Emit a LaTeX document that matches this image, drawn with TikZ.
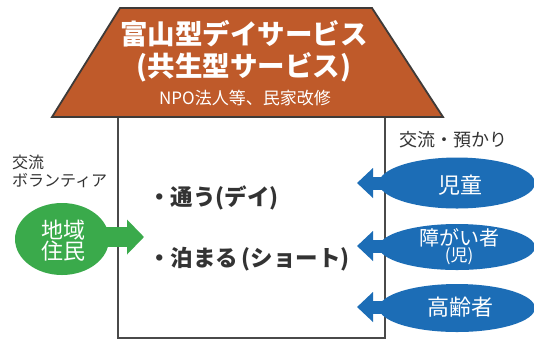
\documentclass[tikz,border=0pt]{standalone}
\usepackage{fontspec}
\setmainfont{Noto Sans CJK JP}
\usetikzlibrary{arrows.meta,shapes.geometric}
\definecolor{roofc}{HTML}{BF5A2A}
\definecolor{roofline}{HTML}{3E3A38}
\definecolor{wallc}{HTML}{4A4A4A}
\definecolor{greenc}{HTML}{3AAA4B}
\definecolor{bluec}{HTML}{1C6DB6}
\definecolor{textc}{HTML}{333333}
\newcommand{\fs}[1]{\fontsize{#1}{#1}\selectfont}
\tikzset{
  rooftxt/.style={inner sep=0pt, text=white, font=\fs{#1}\bfseries},
  sidetxt/.style={inner sep=0pt, anchor=west, text=textc, font=\fs{16}},
  midtxt/.style={inner sep=0pt, anchor=west, text=textc, font=\fs{22.5}\bfseries},
  blobtxt/.style={inner sep=0pt, text=white, align=center, font=\fs{#1}},
  greenblob/.style={ellipse, fill=greenc, inner sep=0pt, minimum width=94pt, minimum height=72pt},
  blueblob/.style={ellipse, fill=bluec, inner sep=0pt, minimum width=156pt, minimum height=#1},
  greenarrow/.style={draw=greenc, line width=20pt, -{Triangle[length=17pt,width=34pt]}},
  bluearrow/.style={draw=bluec, line width=13pt, -{Triangle[length=16pt,width=29pt]}},
}
\begin{document}
\begin{tikzpicture}[x=1pt,y=-1pt]
\useasboundingbox (0,0) rectangle (534,349);
\fill[white] (0,0) rectangle (534,349);
% house walls
\draw[wallc, line width=1.6pt] (118,117) -- (118,338) -- (385,338) -- (385,117);
% roof
\filldraw[fill=roofc, draw=roofline, line width=1.8pt, line join=miter] (120,8) -- (372,8) -- (443,117) -- (52,117) -- cycle;
\node[rooftxt=27.5] (t1) at (244,34) {富山型デイサービス};
\node[rooftxt=27.5] (t2) at (244,67) {(共生型サービス)};
\node[rooftxt=17] (t3) at (245,98) {\mdseries NPO法人等、民家改修};
% inside
\node[midtxt] (m1) at (148,198) {・通う(デイ)};
\node[midtxt] (m2) at (148,259) {・泊まる\,(ショート)};
% left
\node[sidetxt] (l1) at (12,162) {交流};
\node[sidetxt] (l2) at (12,181) {ボランティア};
\node[greenblob] (res) at (62,239) {};
\coordinate (gtip) at (144,237);
\draw[greenarrow] (98,237) -- (gtip);
\node[blobtxt=22] (restxt) at (63,241) {地域\\[-1pt]住民};
% right
\node[sidetxt, font=\fs{18}] (r0) at (399,140) {交流・預かり};
\node[blueblob=51pt] (b1) at (457,183) {};
\node[blueblob=46pt] (b2) at (457,247) {};
\node[blueblob=48pt] (b3) at (457,308) {};
\coordinate (tip1) at (357,183);
\coordinate (tip2) at (357,246);
\coordinate (tip3) at (357,307);
\draw[bluearrow] (395,183) -- (tip1);
\draw[bluearrow] (395,246) -- (tip2);
\draw[bluearrow] (395,307) -- (tip3);
\node[blobtxt=22] (b1t) at (460,185) {児童};
\node[blobtxt=20] (b2t) at (459,247) {障がい者\\[-4pt]{\fs{17}(児)}};
\node[blobtxt=22] (b3t) at (460,307) {高齢者};
\end{tikzpicture}
\end{document}
